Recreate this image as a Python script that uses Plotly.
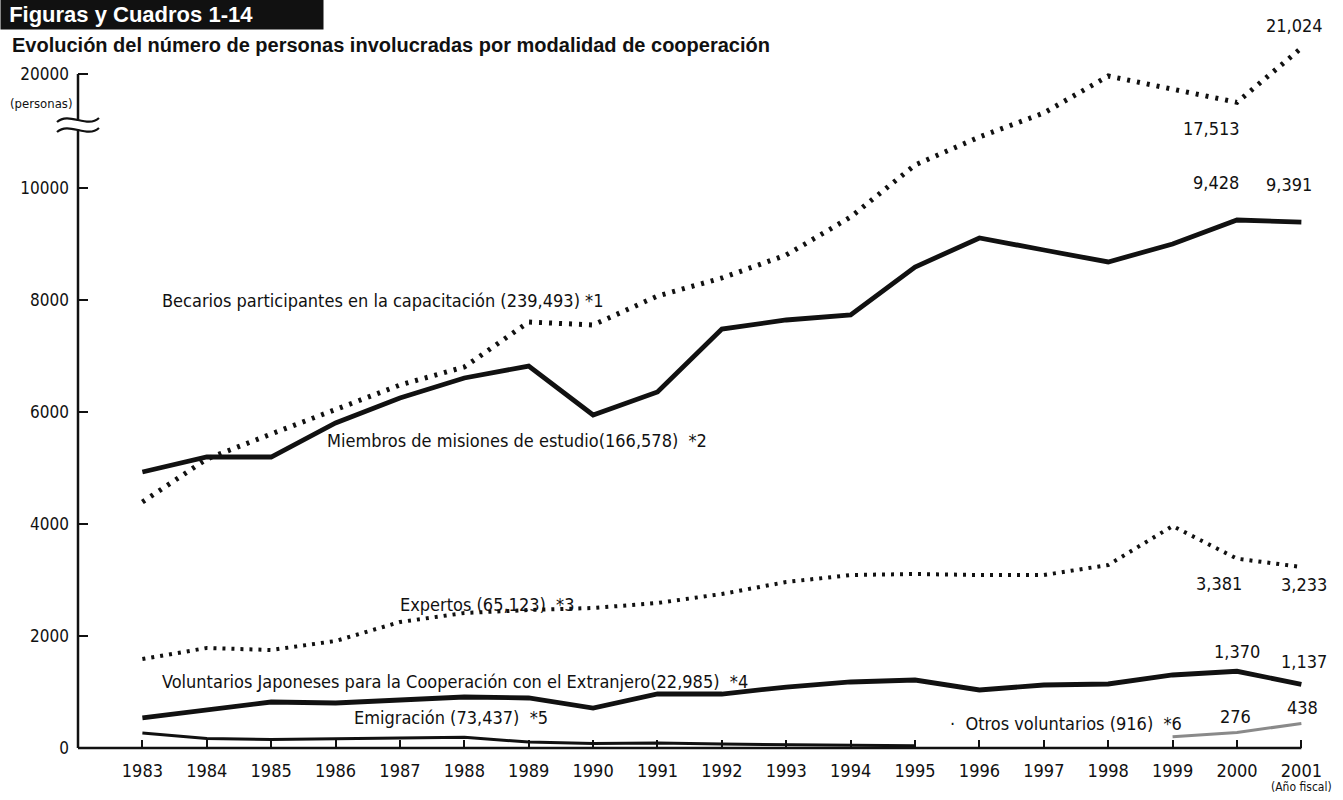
import numpy as np
import plotly.graph_objects as go

# ---------------- data ----------------
years = list(range(1983, 2002))

becarios = [4393, 5161, 5607, 6054, 6482, 6804, 7607, 7554, 8071, 8393,
            8804, 9482, 12019, 14474, 16577, 19823, 18684, 17513, 21024]
miembros = [4929, 5196, 5196, 5804, 6250, 6607, 6821, 5946, 6357, 7482,
            7643, 7732, 8589, 9107, 8893, 8679, 9000, 9428, 9391]
expertos = [1589, 1786, 1750, 1911, 2250, 2411, 2464, 2500, 2589, 2750,
            2964, 3089, 3107, 3089, 3089, 3268, 3964, 3381, 3233]
voluntarios = [536, 679, 821, 804, 857, 911, 893, 714, 964, 964,
               1089, 1179, 1214, 1036, 1125, 1143, 1304, 1370, 1137]
emig_years = list(range(1983, 1996))
emigracion = [268, 170, 150, 170, 180, 190, 107, 80, 90, 70, 60, 50, 40]
otros_years = [1999, 2000, 2001]
otros = [202, 276, 438]

y_tick_values = [0, 2000, 4000, 6000, 8000, 10000, 20000]
y_tick_labels = ["0", "2000", "4000", "6000", "8000", "10000", "20000"]

# broken (compressed) axis above 10000, as drawn in the original
AXIS_REAL = [0, 10000, 20000, 21024]
AXIS_DRAWN = [0, 10000, 12036, 12500]
Y_TOP = 13000


def to_axis(v):
    return np.interp(np.asarray(v, dtype=float), AXIS_REAL, AXIS_DRAWN)


NARROW = "Liberation Sans Narrow, Arial Narrow, DejaVu Sans Condensed, sans-serif"
BLACK = "#111111"

fig = go.Figure()

fig.add_trace(go.Scatter(x=years, y=to_axis(becarios), mode="lines",
                         line=dict(color=BLACK, width=5, dash="3px,7px"),
                         cliponaxis=False, name="Becarios"))
fig.add_trace(go.Scatter(x=years, y=to_axis(miembros), mode="lines",
                         line=dict(color=BLACK, width=4.8),
                         cliponaxis=False, name="Miembros"))
fig.add_trace(go.Scatter(x=years, y=to_axis(expertos), mode="lines",
                         line=dict(color=BLACK, width=4, dash="3px,6px"),
                         cliponaxis=False, name="Expertos"))
fig.add_trace(go.Scatter(x=years, y=to_axis(voluntarios), mode="lines",
                         line=dict(color=BLACK, width=4.8),
                         cliponaxis=False, name="Voluntarios"))
fig.add_trace(go.Scatter(x=emig_years, y=to_axis(emigracion), mode="lines",
                         line=dict(color=BLACK, width=3),
                         cliponaxis=False, name="Emigración"))
fig.add_trace(go.Scatter(x=otros_years, y=to_axis(otros), mode="lines",
                         line=dict(color="#8a8a8a", width=3),
                         cliponaxis=False, name="Otros"))

annotations = []


def label(x, y, text, size=18, xanchor="left", xshift=0, yshift=0, font=NARROW):
    annotations.append(dict(x=x, y=y, xref="x", yref="y", text=text, showarrow=False,
                            xanchor=xanchor, yanchor="middle", xshift=xshift, yshift=yshift,
                            font=dict(family=font, size=size, color=BLACK)))


# series labels
label(1983.27, 8000, "Becarios participantes en la capacitación (239,493) *1")
label(1985.84, 5500, "Miembros de misiones de estudio(166,578)  *2")
label(1986.97, 2554, "Expertos (65,123)  *3")
label(1983.27, 1196, "Voluntarios Japoneses para la Cooperación con el Extranjero(22,985)  *4")
label(1986.25, 536, "Emigración (73,437)  *5")
label(1995.51, 446, "·  Otros voluntarios (916)  *6")


# value labels
def value_label(year, series_years, series, xshift, yshift):
    v = series[series_years.index(year)]
    label(year, float(to_axis(v)), f"{v:,}", size=18, xanchor="center",
          xshift=xshift, yshift=yshift)


value_label(2001, years, becarios, -7, 23)
value_label(2000, years, becarios, -25, -26)
value_label(2000, years, miembros, -21, 38)
value_label(2001, years, miembros, -12, 38)
value_label(2000, years, expertos, -18, -25)
value_label(2001, years, expertos, 3, -18)
value_label(2000, years, voluntarios, 0, 20)
value_label(2001, years, voluntarios, 3, 23)
value_label(2000, otros_years, otros, -1, 16)
value_label(2001, otros_years, otros, 1, 16)

PLOT_W = 1343 - 78 - 3
PLOT_H = 800 - 20 - 52

# unit labels
annotations.append(dict(x=(74 - 78) / PLOT_W, y=(748 - 103) / PLOT_H, xref="paper", yref="paper",
                        text="(personas)", showarrow=False, xanchor="right", yanchor="middle",
                        font=dict(family=NARROW, size=13, color=BLACK)))
annotations.append(dict(x=2001, y=(748 - 787) / PLOT_H, xref="x", yref="paper",
                        text="(Año fiscal)", showarrow=False, xanchor="center", yanchor="middle",
                        font=dict(family=NARROW, size=12, color=BLACK)))

# header tab
annotations.append(dict(x=(0 - 78) / PLOT_W, y=(748 - 14) / PLOT_H, xref="paper", yref="paper",
                        xanchor="left", yanchor="middle", width=318, align="left",
                        text="&nbsp;<b>Figuras y Cuadros 1-14</b>", showarrow=False,
                        bgcolor="#111111", borderpad=2,
                        font=dict(family="Liberation Sans, Arial, sans-serif", size=22, color="white")))

shapes = []
top_paper = float(to_axis(20000)) / Y_TOP
# axis lines (paper refs so they are not clipped at the plot edge)
shapes.append(dict(type="line", xref="paper", yref="paper", x0=0, x1=0, y0=0, y1=top_paper,
                   line=dict(color=BLACK, width=2.5)))
shapes.append(dict(type="line", xref="paper", yref="paper", x0=0, x1=(2001 - 1982) / 19.6,
                   y0=0, y1=0, line=dict(color=BLACK, width=2.5)))

# axis break symbol (pixel offsets converted to paper units)
PX = 1 / PLOT_W
PY = 1 / PLOT_H
brk = 11125.0 / Y_TOP
shapes.append(dict(type="rect", xref="paper", yref="paper", x0=-3 * PX, x1=3 * PX,
                   y0=brk - 4 * PY, y1=brk + 4 * PY, fillcolor="white",
                   line=dict(width=0), layer="above"))
for off in (5, -5):
    yc = brk + off * PY
    path = (f"M {-21 * PX},{yc - 2 * PY} "
            f"C {-9 * PX},{yc + 9 * PY} {9 * PX},{yc - 9 * PY} "
            f"{21 * PX},{yc + 2 * PY}")
    shapes.append(dict(type="path", xref="paper", yref="paper", path=path,
                       line=dict(color=BLACK, width=2.2), layer="above"))

fig.update_layout(
    width=1343, height=800, autosize=False,
    paper_bgcolor="white", plot_bgcolor="white",
    margin=dict(l=78, r=3, t=20, b=52),
    showlegend=False,
    title=dict(text="<b>Evolución del número de personas involucradas por modalidad de cooperación</b>",
               x=12 / 1343, xanchor="left", y=1 - 45 / 800, yanchor="middle",
               xref="container", yref="container",
               font=dict(family="Liberation Sans, Arial, sans-serif", size=20, color=BLACK)),
    xaxis=dict(range=[1982, 2001.6], tickmode="array", tickvals=years,
               ticktext=[str(y) for y in years], ticks="inside", ticklen=8, tickwidth=1.5,
               tickcolor=BLACK, showgrid=False, zeroline=False, showline=False,
               ticklabelstandoff=10,
               tickfont=dict(family=NARROW, size=18, color=BLACK)),
    yaxis=dict(range=[0, Y_TOP], tickmode="array", tickvals=list(to_axis(y_tick_values)),
               ticktext=y_tick_labels, ticks="inside", ticklen=10, tickwidth=2,
               tickcolor=BLACK, showgrid=False, zeroline=False, showline=False,
               ticklabelstandoff=8,
               tickfont=dict(family=NARROW, size=17, color=BLACK)),
    annotations=annotations,
    shapes=shapes,
)

fig.write_html("out.html", config={"displayModeBar": False},
               post_script="document.body.style.margin='0px';")
